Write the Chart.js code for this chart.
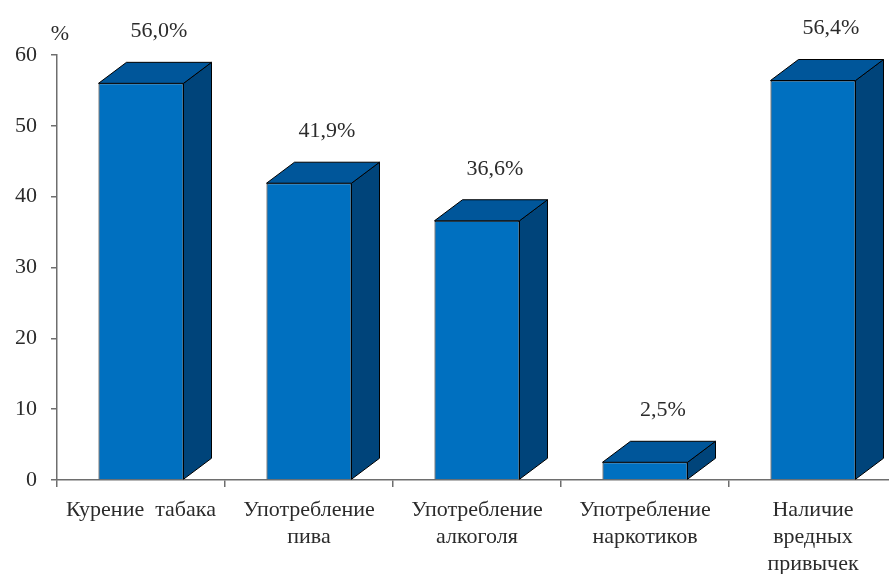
<!DOCTYPE html>
<html>
<head>
<meta charset="utf-8">
<script src="https://cdn.jsdelivr.net/npm/chart.js@4.4.1/dist/chart.umd.min.js"></script>
<style>
  html, body { margin: 0; padding: 0; background: #fff; overflow: hidden; }
  #wrap { position: relative; width: 900px; height: 574px; }
</style>
</head>
<body>
<div id="wrap"><canvas id="habitsChart"></canvas></div>
<script>
// Share of respondents per habit, %
const categories = [
    ['Курение  табака'],
    ['Употребление', 'пива'],
    ['Употребление', 'алкоголя'],
    ['Употребление', 'наркотиков'],
    ['Наличие', 'вредных', 'привычек']
];
const shares = [56.0, 41.9, 36.6, 2.5, 56.4];
const yTicks = [0, 10, 20, 30, 40, 50, 60];

const FONT = '"Liberation Serif", "Times New Roman", serif';
const TEXT = '#2b2b2b';
const AXIS = '#6e6e6e';
const FRONT = '#0070c0';
const TOP = '#00569a';
const SIDE = '#00447a';
const DEPTH_X = 28;
const DEPTH_Y = 21;

// Top and side faces for the bars, plus the value labels above them
const bar3d = {
    id: 'bar3d',
    afterDatasetsDraw(chart) {
        const ctx = chart.ctx;
        const meta = chart.getDatasetMeta(0);
        ctx.save();
        ctx.lineWidth = 1;
        ctx.strokeStyle = '#000';
        ctx.lineJoin = 'round';
        meta.data.forEach((bar, i) => {
            const l = bar.x - bar.width / 2;
            const r = bar.x + bar.width / 2;
            const t = bar.y;
            const b = bar.base;

            // side
            ctx.beginPath();
            ctx.moveTo(r, t);
            ctx.lineTo(r + DEPTH_X, t - DEPTH_Y);
            ctx.lineTo(r + DEPTH_X, b - DEPTH_Y);
            ctx.lineTo(r, b);
            ctx.closePath();
            ctx.fillStyle = SIDE;
            ctx.fill();
            ctx.stroke();

            // top
            ctx.beginPath();
            ctx.moveTo(l, t);
            ctx.lineTo(l + DEPTH_X, t - DEPTH_Y);
            ctx.lineTo(r + DEPTH_X, t - DEPTH_Y);
            ctx.lineTo(r, t);
            ctx.closePath();
            ctx.fillStyle = TOP;
            ctx.fill();
            ctx.stroke();

            // value label
            const v = shares[i];
            ctx.fillStyle = TEXT;
            ctx.font = '22px ' + FONT;
            ctx.textAlign = 'center';
            ctx.textBaseline = 'middle';
            ctx.fillText(v.toFixed(1).replace('.', ',') + '%', bar.x + DEPTH_X / 2 + 4, t - DEPTH_Y - 31);
        });

        // unit mark above the value axis
        const ys = chart.scales.y;
        ctx.fillStyle = TEXT;
        ctx.font = '22px ' + FONT;
        ctx.textAlign = 'center';
        ctx.textBaseline = 'middle';
        ctx.fillText('%', ys.right + 3, ys.top - 21);
        ctx.restore();
    }
};

new Chart(document.getElementById('habitsChart'), {
    type: 'bar',
    data: {
        labels: categories,
        datasets: [{
            data: shares,
            backgroundColor: FRONT,
            borderColor: '#000',
            borderWidth: 1,
            categoryPercentage: 1,
            barPercentage: 0.506
        }]
    },
    options: {
        responsive: true,
        maintainAspectRatio: false,
        animation: false,
        layout: { padding: { top: 55, right: 3, left: 0, bottom: 0 } },
        plugins: { legend: { display: false }, tooltip: { enabled: false } },
        scales: {
            x: {
                afterFit: s => { s.height = 94; },
                border: { display: true, color: AXIS, width: 1.5 },
                grid: { display: true, offset: true, drawOnChartArea: false, drawTicks: true, tickLength: 7, color: AXIS, lineWidth: 1.5 },
                ticks: { color: TEXT, font: { family: FONT, size: 22, lineHeight: 1.22 }, padding: 10, maxRotation: 0, autoSkip: false }
            },
            y: {
                min: 0,
                max: 60,
                afterFit: s => { s.width = 57; },
                afterBuildTicks: s => { s.ticks = yTicks.map(v => ({ value: v })); },
                border: { display: true, color: AXIS, width: 1.5 },
                grid: { display: true, drawOnChartArea: false, drawTicks: true, tickLength: 6, color: AXIS, lineWidth: 1.5 },
                ticks: { color: TEXT, font: { family: FONT, size: 22 }, padding: 14 }
            }
        }
    },
    plugins: [bar3d]
});
</script>
</body>
</html>
